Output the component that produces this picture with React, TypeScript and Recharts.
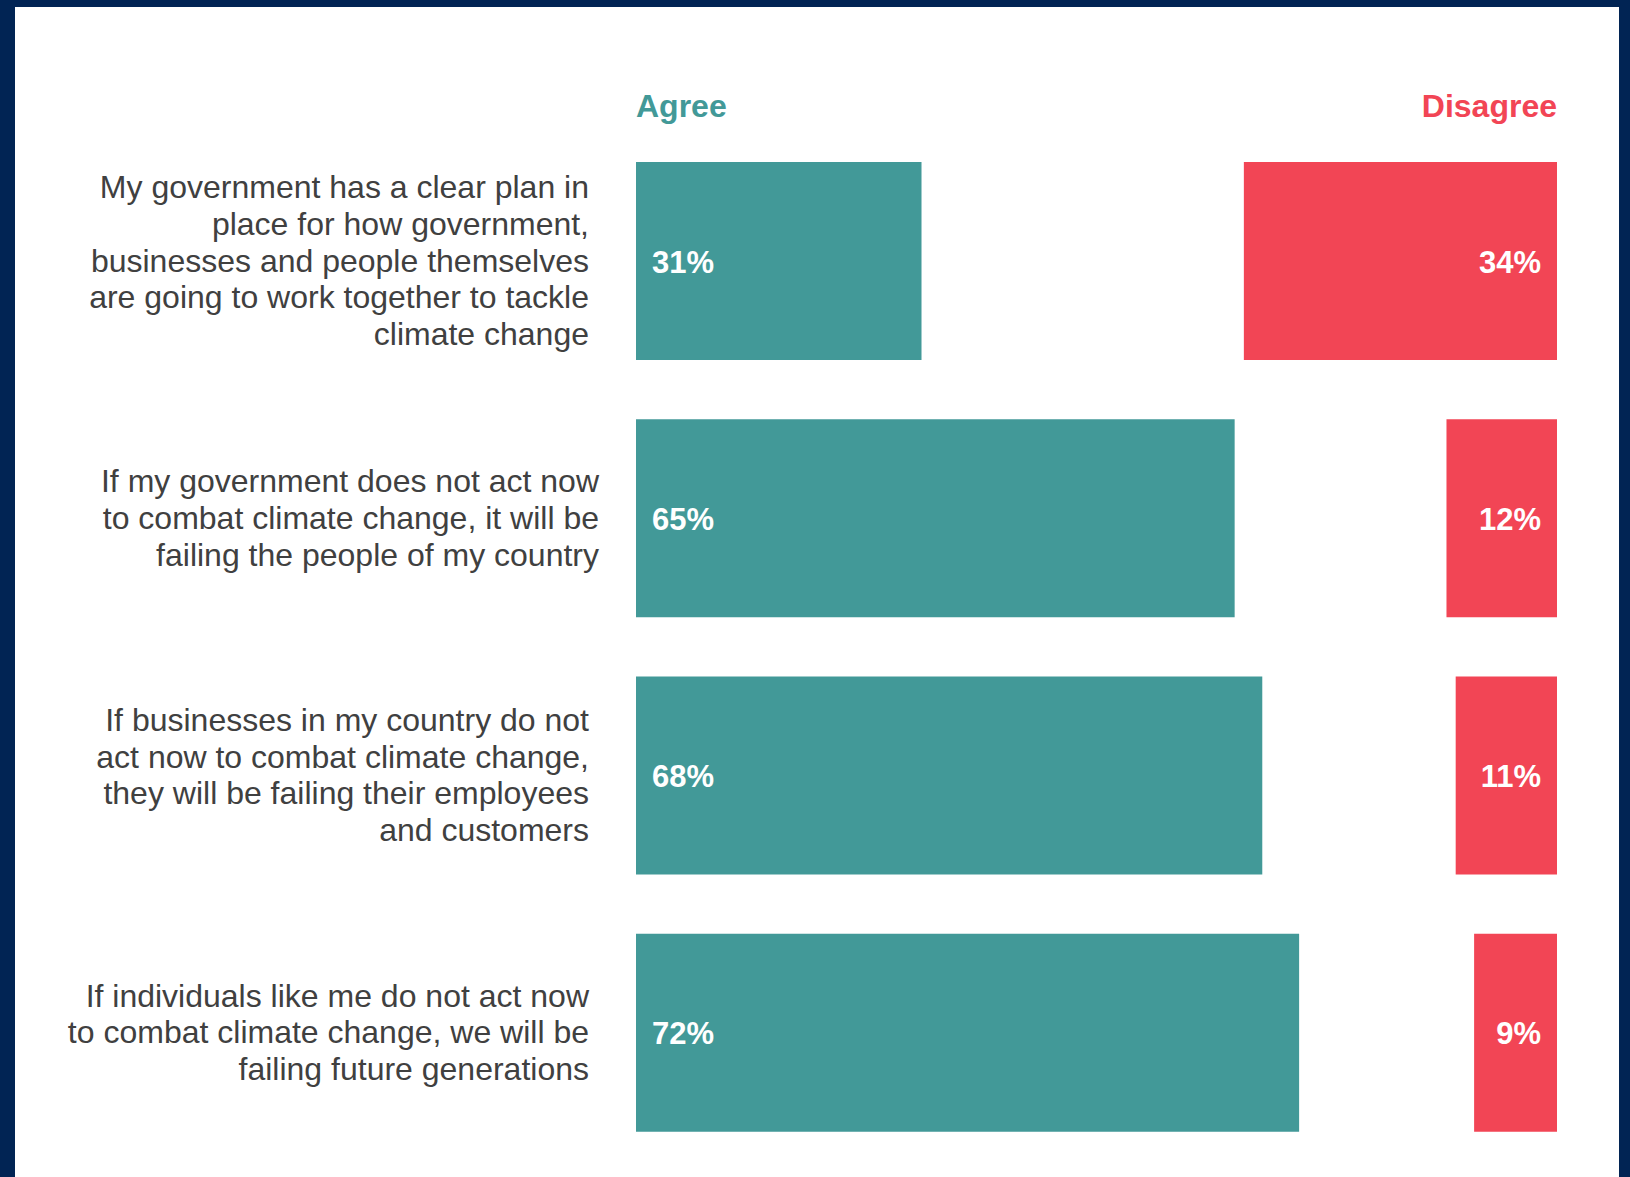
import { Bar, BarChart, LabelList, XAxis, YAxis } from 'recharts';

// survey statements, one array of lines per bar row
const statements = [
  [
    'My government has a clear plan in',
    'place for how government,',
    'businesses and people themselves',
    'are going to work together to tackle',
    'climate change',
  ],
  [
    'If my government does not act now',
    'to combat climate change, it will be',
    'failing the people of my country',
  ],
  [
    'If businesses in my country do not',
    'act now to combat climate change,',
    'they will be failing their employees',
    'and customers',
  ],
  [
    'If individuals like me do not act now',
    'to combat climate change, we will be',
    'failing future generations',
  ],
];

const agreeValues = [31, 65, 68, 72];
const neutralValues = [35, 23, 21, 19];
const disagreeValues = [34, 12, 11, 9];

const seriesNames = ['Agree', 'Disagree'];

const TEAL = '#429998';
const RED = '#F24555';
const NAVY = '#012454';
const TEXT = '#404040';
const FONT = '"Liberation Sans", Arial, sans-serif';

// distance from the plot's left edge to the right edge of each statement
const labelGap = [47, 37, 47, 47];

const rows = statements.map((lines, i) => ({
  key: String(i),
  agree: agreeValues[i],
  neutral: neutralValues[i],
  disagree: disagreeValues[i],
}));

const StatementTick = (props: any) => {
  const { y, payload } = props;
  const i = Number(payload.value);
  const lines = statements[i];
  const lh = 36.7;
  const first = y - ((lines.length - 1) / 2) * lh + 11;
  const right = 636 - labelGap[i];
  return (
    <text x={right} y={first} textAnchor="end" fill={TEXT} fontSize={32} fontFamily={FONT}>
      {lines.map((l, k) => (
        <tspan key={k} x={right} y={first + k * lh}>
          {l}
        </tspan>
      ))}
    </text>
  );
};

const agreeLabel = (props: any) => {
  const { x, y, height, value } = props;
  return (
    <text x={x + 16} y={y + height / 2 + 11.5} fill="#fff" fontSize={31} fontWeight="bold" fontFamily={FONT}>
      {value}%
    </text>
  );
};

const disagreeLabel = (props: any) => {
  const { x, y, width, height, value } = props;
  return (
    <text
      x={x + width - 16}
      y={y + height / 2 + 11.5}
      textAnchor="end"
      fill="#fff"
      fontSize={31}
      fontWeight="bold"
      fontFamily={FONT}
    >
      {value}%
    </text>
  );
};

export default function App() {
  return (
    <div style={{ position: 'absolute', left: 0, top: 0, width: 1630, height: 1177, background: NAVY, overflow: 'hidden' }}>
      <div style={{ position: 'absolute', left: 15, top: 7, width: 1604, height: 1170, background: '#fff' }} />
      <svg width={1630} height={140} style={{ position: 'absolute', left: 0, top: 0 }}>
        <text x={636} y={117} fill={TEAL} fontSize={32} fontWeight="bold" fontFamily={FONT}>
          {seriesNames[0]}
        </text>
        <text x={1557} y={117} textAnchor="end" fill={RED} fontSize={32} fontWeight="bold" fontFamily={FONT}>
          {seriesNames[1]}
        </text>
      </svg>
      <div style={{ position: 'absolute', left: 0, top: 0 }}>
        <BarChart
          layout="vertical"
          width={1630}
          height={1177}
          data={rows}
          barSize={198}
          margin={{ top: 132, right: 73, bottom: 16, left: 0 }}
        >
          <XAxis type="number" domain={[0, 100]} hide />
          <YAxis
            type="category"
            dataKey="key"
            width={636}
            axisLine={false}
            tickLine={false}
            interval={0}
            tick={<StatementTick />}
          />
          <Bar dataKey="agree" stackId="s" fill={TEAL} isAnimationActive={false}>
            <LabelList dataKey="agree" content={agreeLabel} />
          </Bar>
          <Bar dataKey="neutral" stackId="s" fill="transparent" isAnimationActive={false} />
          <Bar dataKey="disagree" stackId="s" fill={RED} isAnimationActive={false}>
            <LabelList dataKey="disagree" content={disagreeLabel} />
          </Bar>
        </BarChart>
      </div>
    </div>
  );
}
